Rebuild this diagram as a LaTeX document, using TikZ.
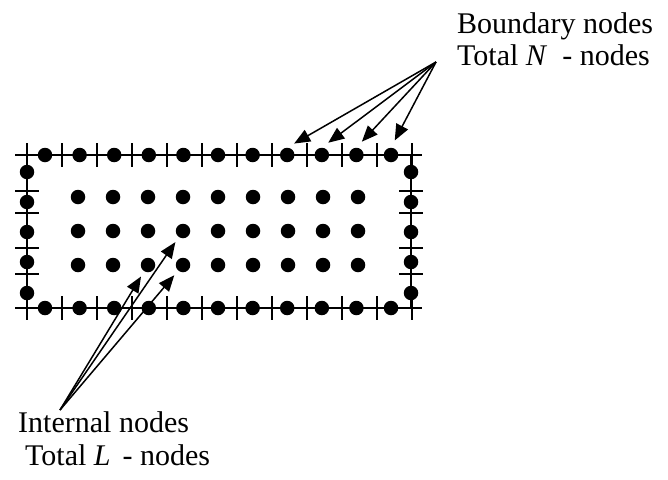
\documentclass[tikz,border=0pt]{standalone}
\usepackage{fontspec}
\setmainfont{Liberation Serif}
\usetikzlibrary{arrows.meta,positioning}

\begin{document}
\begin{tikzpicture}[x=1pt,y=-1pt,
  dot/.style={circle,fill=black,inner sep=0pt,minimum size=14.5pt},
  edge/.style={line width=2.2pt},
  pointer/.style={line width=1.5pt,-{Triangle[length=16pt,width=13pt]},shorten >=6pt},
  lbl/.style={font=\fontsize{30}{36}\selectfont,inner sep=0pt,anchor=base west}]
\useasboundingbox (0,0) rectangle (668,479);
\draw[edge] (15,155) -- (422,155);
\draw[edge] (15,308) -- (422,308);
\draw[edge] (27,155) -- (27,308);
\draw[edge] (411,155) -- (411,308);
\foreach \i in {0,...,11} {
  \draw[edge] (27+35*\i,143) -- (27+35*\i,167);
  \draw[edge] (27+35*\i,296) -- (27+35*\i,320);
}
\foreach \y in {191,213,248,274} {
  \draw[edge] (15,\y) -- (39,\y);
  \draw[edge] (399,\y) -- (423,\y);
}
\foreach \i in {0,...,10} {
  \node[dot] (tp\i) at (45+34.6*\i,155) {};
  \node[dot] (bt\i) at (45+34.6*\i,308) {};
}
\foreach \y [count=\j] in {172,202,232,262,293} {
  \node[dot] (lf\j) at (27,\y) {};
  \node[dot] (rt\j) at (411,\y) {};
}
\foreach \y [count=\r] in {197,231,265}
  \foreach \col in {1,...,9}
    \node[dot] (in\r-\col) at (43+35*\col,\y) {};
\node[lbl] (bnd1) at (457,33) {Boundary nodes};
\node[lbl] (bnd2) at (457,65) {Total \textit{N}\hspace{0.5em}- nodes};
\node[lbl] (int1) at (18,432) {Internal nodes};
\node[lbl] (int2) at (25,465) {Total \textit{L}\hspace{0.4em}- nodes};
\coordinate (bsrc) at (436,62);
\coordinate (isrc) at (60,410);
\foreach \k in {7,...,10}
  \draw[pointer,shorten >=8pt] (bsrc) -- (tp\k.north);
\foreach \t in {in3-3,in2-4,in3-4}
  \draw[pointer] (isrc) -- (\t);
\end{tikzpicture}
\end{document}
